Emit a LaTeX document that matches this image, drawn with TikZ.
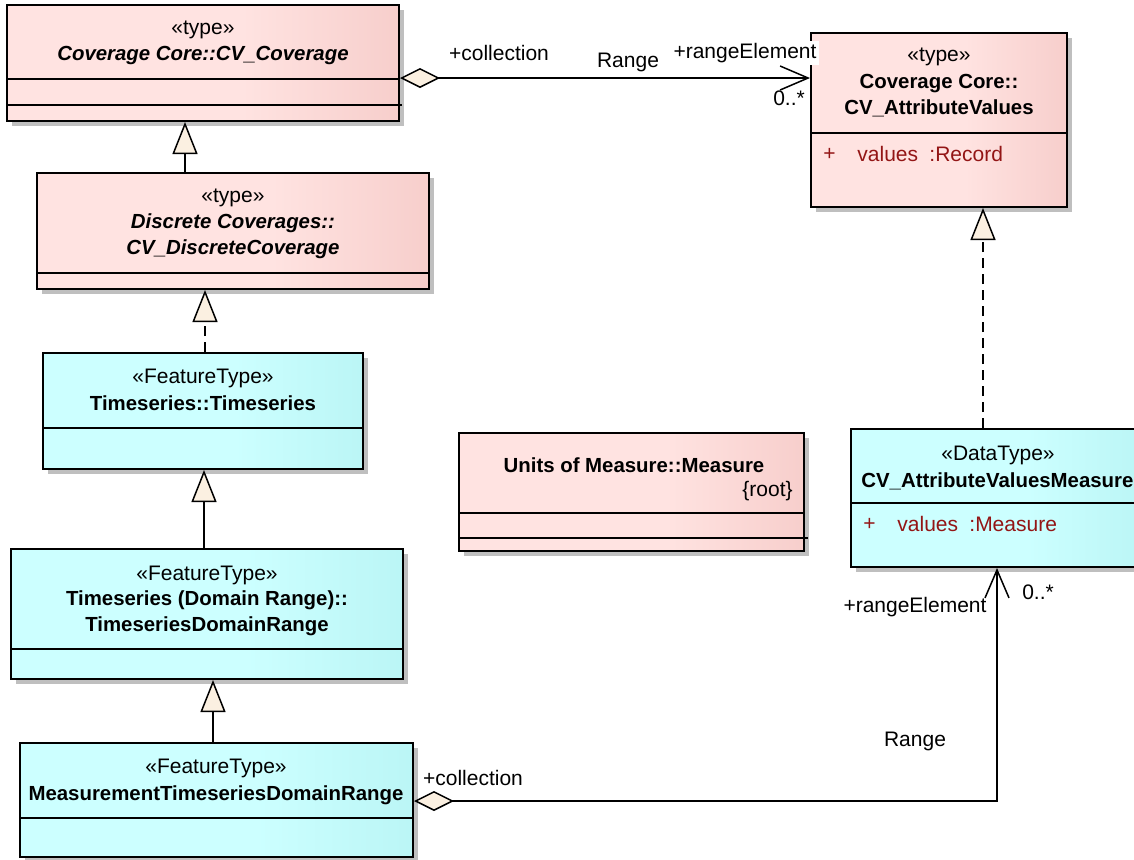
\documentclass[tikz,border=0pt]{standalone}
\usepackage{fontspec}
\setmainfont{Liberation Sans}
\usetikzlibrary{arrows.meta,shadows}

\definecolor{pinkL}{HTML}{FFE3E1}
\definecolor{pinkR}{HTML}{EDB4B1}
\definecolor{cyanL}{HTML}{CCFFFF}
\definecolor{cyanR}{HTML}{A5EAEA}
\definecolor{tipfill}{HTML}{FBF0E1}
\definecolor{attrred}{HTML}{931515}
\definecolor{shadowgray}{HTML}{BFBFBF}

\pgfdeclarehorizontalshading{pinkgrad}{100bp}{color(0bp)=(pinkL); color(55bp)=(pinkL); color(100bp)=(pinkR)}
\pgfdeclarehorizontalshading{cyangrad}{100bp}{color(0bp)=(cyanL); color(55bp)=(cyanL); color(100bp)=(cyanR)}

\begin{document}
\begin{tikzpicture}[x=0.5pt,y=-0.5pt,font=\fontsize{10.5}{13}\selectfont,
  class box/.style={draw,line width=1pt,inner sep=0pt,
    drop shadow={shadow xshift=2.5pt,shadow yshift=-2.5pt,fill=shadowgray,opacity=1}},
  pink box/.style={class box,shading=pinkgrad},
  cyan box/.style={class box,shading=cyangrad},
  head/.style={align=center,inner sep=0pt},
  cname/.style={head,font=\fontsize{10.2}{13}\selectfont\bfseries},
  iname/.style={head,font=\fontsize{10.2}{13}\selectfont\bfseries\itshape},
  attr/.style={text=attrred,anchor=west,inner sep=0pt},
  role/.style={inner sep=1pt},
  gen/.style={line width=0.75pt,-{Triangle[width=12.5pt,length=16pt,fill=tipfill]}},
  real/.style={gen,dash pattern=on 5pt off 3pt},
  assoc/.style={line width=0.75pt,{Diamond[length=20pt,width=10pt,fill=tipfill]}-{Straight Barb[length=14pt,width=12pt]}}]
  \useasboundingbox (0,0) rectangle (1134,859);

  % class boxes
  \node[pink box,minimum width=196pt,minimum height=58pt] at (203,63) (cov) {};
  \node[pink box,minimum width=196pt,minimum height=58pt] at (233,231) (disc) {};
  \node[cyan box,minimum width=160pt,minimum height=58pt] at (203,411) (ts) {};
  \node[cyan box,minimum width=196pt,minimum height=65pt] at (207,614) (tsdr) {};
  \node[cyan box,minimum width=196.5pt,minimum height=57pt] at (216.5,800) (mtsdr) {};
  \node[pink box,minimum width=128pt,minimum height=87pt] at (939,120) (attval) {};
  \node[pink box,minimum width=172.5pt,minimum height=59pt] at (631.5,492) (uom) {};
  \node[cyan box,minimum width=147pt,minimum height=69pt] at (998,498) (avm) {};

  % compartments
  \begin{scope}[line width=1pt]
    \draw (7,79) -- (399,79);
    \draw (7,105) -- (402,105);
    \draw (37,273) -- (429,273);
    \draw (43,428) -- (363,428);
    \draw (11,649) -- (403,649);
    \draw (20,818) -- (413,818);
    \draw (811,133) -- (1067,133);
    \draw (459,513) -- (804,513);
    \draw (459,538) -- (808,538);
    \draw (851,503) -- (1145,503);
  \end{scope}

  % headers
  \node[head] at (203,30) (covSt) {«type»};
  \node[iname] at (203,55) (covName) {Coverage Core::CV\_Coverage};
  \node[head] at (233,198) (discSt) {«type»};
  \node[iname] at (233,236.5) (discName) {Discrete Coverages::\\CV\_DiscreteCoverage};
  \node[head] at (203,378) (tsSt) {«FeatureType»};
  \node[cname] at (203,403) (tsName) {Timeseries::Timeseries};
  \node[head] at (207,575) (tsdrSt) {«FeatureType»};
  \node[cname] at (207,613) (tsdrName) {Timeseries (Domain Range)::\\TimeseriesDomainRange};
  \node[head] at (216,768) (mtsdrSt) {«FeatureType»};
  \node[cname] at (216,795) (mtsdrName) {MeasurementTimeseriesDomainRange};
  \node[head] at (939,57) (attvalSt) {«type»};
  \node[cname] at (939,96) (attvalName) {Coverage Core::\\CV\_AttributeValues};
  \node[attr] at (823,154) (attvalPlus) {+};
  \node[attr] at (857,154) (attvalVal) {values};
  \node[attr] at (929,154) (attvalType) {:Record};
  \node[cname] at (634,465) (uomName) {Units of Measure::Measure};
  \node[head,anchor=east] at (793,491) (uomRoot) {\{root\}};
  \node[head] at (998,455) (avmSt) {«DataType»};
  \node[cname,anchor=west] at (861,481) (avmName) {CV\_AttributeValuesMeasure};
  \node[attr] at (863,524) (avmPlus) {+};
  \node[attr] at (897,524) (avmVal) {values};
  \node[attr] at (969,524) (avmType) {:Measure};

  % connectors
  \draw[gen] (disc.north -| 185,0) -- (cov.south -| 185,0);
  \draw[real] (ts.north -| 205,0) -- (disc.south -| 205,0);
  \draw[gen] (tsdr.north -| 204,0) -- (ts.south -| 204,0);
  \draw[gen] (mtsdr.north -| 213,0) -- (tsdr.south -| 213,0);
  \draw[real] (avm.north -| 983,0) -- (attval.south -| 983,0);
  \draw[assoc] (cov.east |- 0,78) -- (attval.west |- 0,78);
  \draw[assoc] (mtsdr.east |- 0,801) -| (avm.south -| 997,0);

  % roles
  \node[role] at (499,53) (colTop) {+collection};
  \node[role] at (628,62) (rngTop) {Range};
  \node[role,fill=white] at (745,53) (elemTop) {+rangeElement};
  \node[role] at (789,98) (multTop) {0..*};
  \node[role] at (473,778) (colBot) {+collection};
  \node[role] at (915,741) (rngBot) {Range};
  \node[role] at (915,607) (elemBot) {+rangeElement};
  \node[role] at (1038,592) (multBot) {0..*};
\end{tikzpicture}
\end{document}
